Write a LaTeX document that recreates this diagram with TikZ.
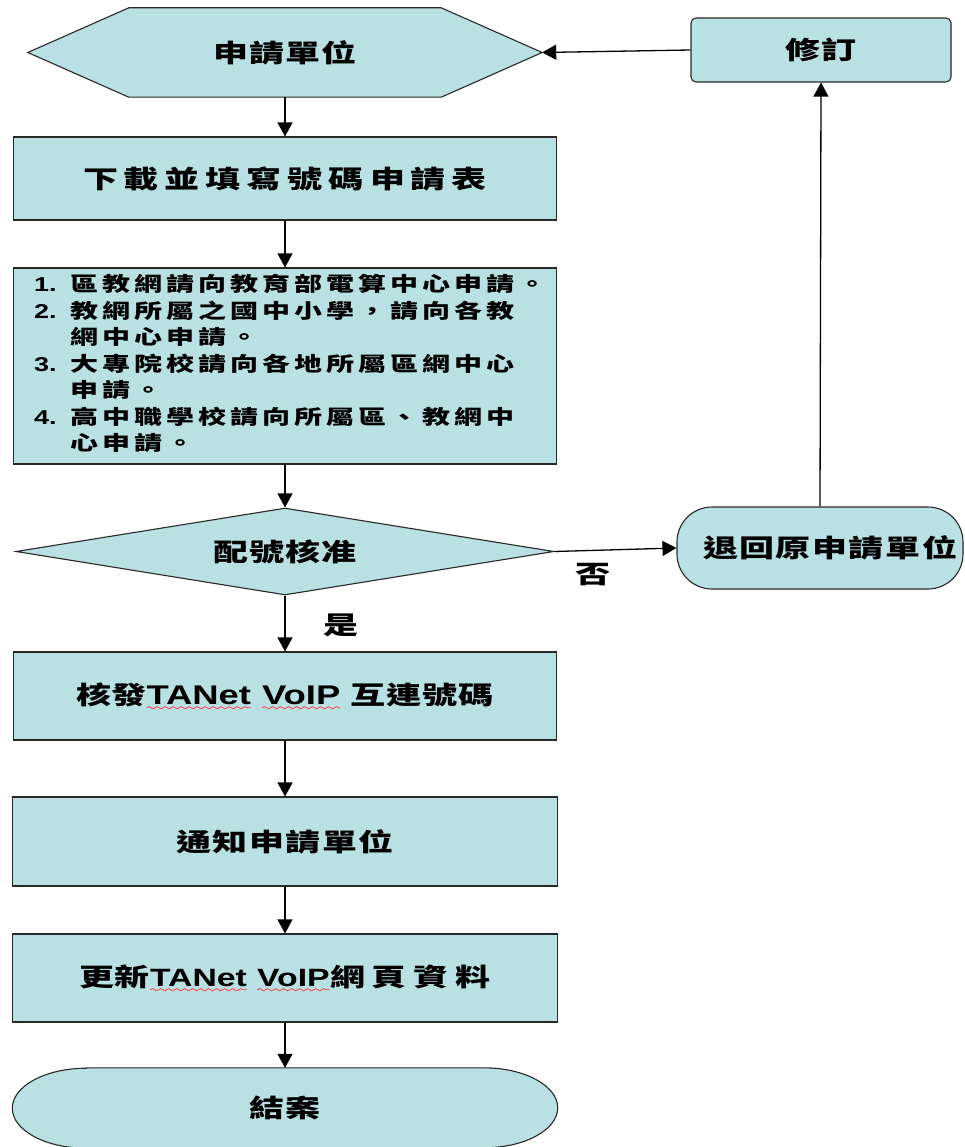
\documentclass[tikz,border=0pt]{standalone}
\usepackage{fontspec}
\setmainfont{Liberation Sans}
\newfontfamily\cjkfont{Noto Sans CJK TC}[FakeStretch=1.4]
\newfontfamily\latfont{Liberation Sans}[FakeStretch=1.35]
\usetikzlibrary{shapes.geometric,arrows.meta,decorations.pathmorphing,calc,backgrounds}
\definecolor{boxfill}{RGB}{185,224,226}
\definecolor{boxline}{RGB}{40,40,40}
\definecolor{wavered}{RGB}{250,70,70}
\newcommand\zh[2][5]{{\cjkfont\bfseries\addfontfeature{LetterSpace=#1}#2}}
\newcommand\la[2][27]{{\latfont\bfseries\fontsize{#1}{#1}\selectfont #2}}
\newcommand\wavy[1]{\tikz[baseline=(wv.base)]{\node[shape=rectangle,draw=none,fill=none,minimum width=0pt,minimum height=0pt,inner sep=0pt,outer sep=0pt,rounded corners=0pt,anchor=base] (wv) {#1};\draw[wavered,line width=0.8pt,decorate,decoration={snake,amplitude=1.1pt,segment length=8pt}] ([yshift=-3pt]wv.south west) -- ([yshift=-3pt]wv.south east);}}
\newcommand\num[1]{\makebox[36pt][l]{\la[20]{#1}}}
\begin{document}
\begin{tikzpicture}[x=1pt,y=-1pt,
  box/.style={draw=boxline,fill=boxfill,line width=1.1pt,inner sep=0pt},
  ghost/.style={inner sep=0pt},
  flow/.style={line width=1.3pt,-{Triangle[width=15pt,length=14pt]}},
  lbl/.style={font=\fontsize{25}{29}\selectfont}]
\useasboundingbox (0,0) rectangle (965,1147);

\node[ghost,minimum width=514pt,minimum height=89pt,lbl] (hex) at (285,52.5) {\zh{申請單位}};
\node[box,rounded corners=5pt,minimum width=260pt,minimum height=64pt,lbl] (rev) at (821,50) {\zh{修訂}};
\node[box,minimum width=543pt,minimum height=83pt,lbl] (dl) at (285,178.5) {\zh[24]{下載並填寫號碼申請表}};
\node[box,minimum width=543pt,minimum height=196pt] (list) at (285,366) {};
\node[anchor=west,inner sep=0pt,font=\fontsize{20}{26.5}\selectfont] (listtxt) at ($(list.west)+(21,0)$) {%
\begin{tabular}{@{}l@{}l@{}}
\num{1.} & \zh[20]{區教網請向教育部電算中心申請。}\\
\num{2.} & \zh[20]{教網所屬之國中小學，請向各教}\\
 & \zh[20]{網中心申請。}\\
\num{3.} & \zh[20]{大專院校請向各地所屬區網中心}\\
 & \zh[20]{申請。}\\
\num{4.} & \zh[20]{高中職學校請向所屬區、教網中}\\
 & \zh[20]{心申請。}
\end{tabular}};
\node[box,diamond,aspect=6,minimum width=538pt,minimum height=87pt,lbl] (dec) at (285,551.5) {\zh{配號核准}};
\node[box,rounded corners=35pt,minimum width=286pt,minimum height=82pt,lbl] (ret) at (820,548) {\hspace*{20pt}\zh[6]{退回原申請單位}};
\node[box,minimum width=543pt,minimum height=88pt,lbl] (iss) at (285,696) {\zh[0]{核發}\wavy{\la{TANet}}\la{\ }\wavy{\la{VoIP}}\la{\ }\zh[4]{互連號碼}};
\node[box,minimum width=545pt,minimum height=89pt,lbl] (notify) at (285,841.5) {\zh[6]{通知申請單位}};
\node[box,minimum width=545pt,minimum height=88pt,lbl] (upd) at (285,978) {\zh[0]{更新}\wavy{\la[25]{TANet}}\la[25]{\ }\wavy{\la[25]{VoIP}}\zh[27]{網頁資料}};
\node[ghost,minimum width=545pt,minimum height=80pt,lbl] (fin) at (285,1108) {\zh[8]{結案}};

\node[lbl] (no) at (593,575) {\zh{否}};
\node[lbl] (yes) at (341,625) {\zh{是}};

\begin{pgfonlayer}{background}
\fill[white] (0,0) rectangle (965,1147);
\draw[box] (hex.west) -- ($(hex.north west)+(101,0)$) -- ($(hex.north east)+(-101,0)$) -- (hex.east)
  -- ($(hex.south east)+(-101,0)$) -- ($(hex.south west)+(101,0)$) -- cycle;
\draw[box] ($(fin.north west)+(74,0)$) -- ($(fin.north east)+(-74,0)$)
  arc[start angle=90,end angle=-90,x radius=74pt,y radius=40pt]
  -- ($(fin.south west)+(74,0)$)
  arc[start angle=270,end angle=90,x radius=74pt,y radius=40pt] -- cycle;
\end{pgfonlayer}

\draw[flow] (hex.south) -- (dl.north);
\draw[flow] (dl.south) -- (list.north);
\draw[flow] (list.south) -- (dec.north);
\draw[flow] (dec.south) -- (iss.north);
\draw[flow] (iss.south) -- (notify.north);
\draw[flow] (notify.south) -- (upd.north);
\draw[flow] (upd.south) -- (fin.north);
\draw[flow] (dec.east) -- (ret.west);
\draw[flow] (ret.north) -- (rev.south);
\draw[flow] (rev.west) -- (hex.east);
\end{tikzpicture}
\end{document}
